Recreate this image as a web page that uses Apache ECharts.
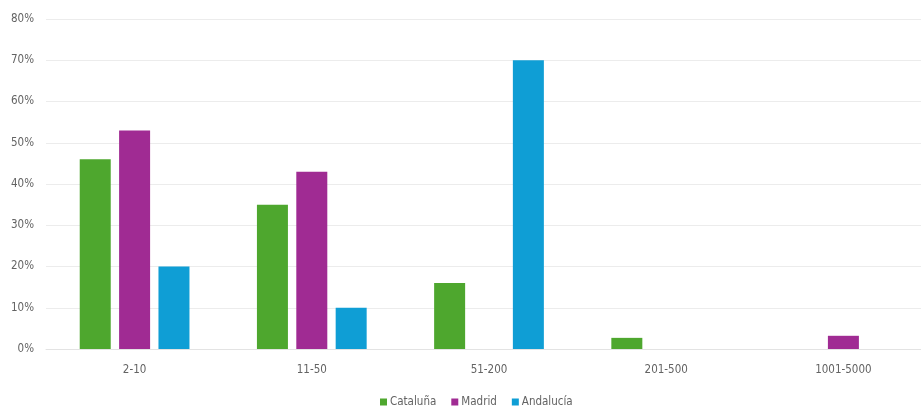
<!DOCTYPE html>
<html>
<head>
<meta charset="utf-8">
<script src="https://cdn.jsdelivr.net/npm/echarts@6/dist/echarts.min.js"></script>
<style>
  html, body { margin: 0; padding: 0; background: #ffffff; }
  #chart { width: 921px; height: 410px; }
</style>
</head>
<body>
<div id="chart"></div>
<script>
// Company size bands (employees)
const categories = ['2-10', '11-50', '51-200', '201-500', '1001-5000'];

// Share of companies per region, in percent
const cataluna  = [46, 35, 16, 2.7, 0];
const madrid    = [53, 43, 0, 0, 3.2];
const andalucia = [20, 10, 70, 0, 0];

const yTicks = { min: 0, max: 80, interval: 10 };

const font = 'DejaVu Sans Condensed';
const textColor = '#636363';

const chart = echarts.init(document.getElementById('chart'), null, { renderer: 'canvas' });

function series(name, data, color) {
  return {
    name: name,
    type: 'bar',
    data: data,
    barWidth: 31,
    barGap: '27%',
    itemStyle: { color: color },
    emphasis: { disabled: true }
  };
}

chart.setOption({
  animation: false,
  // the plot runs a little past the right edge of the canvas
  grid: { left: 46, width: 886, top: 19, bottom: 61, outerBoundsMode: 'none' },
  legend: {
    top: 396,
    left: 380,
    padding: 0,
    itemWidth: 7,
    itemHeight: 7,
    itemGap: 15,
    icon: 'rect',
    textStyle: { fontFamily: font, fontSize: 11.5, color: textColor, padding: [0, 0, 0, -2] },
    data: ['Cataluña', 'Madrid', 'Andalucía']
  },
  xAxis: {
    type: 'category',
    data: categories,
    axisLine: { lineStyle: { color: '#e3e3e3' } },
    axisTick: { show: false },
    axisLabel: { fontFamily: font, fontSize: 11.5, color: textColor, margin: 15 }
  },
  yAxis: {
    type: 'value',
    min: yTicks.min,
    max: yTicks.max,
    interval: yTicks.interval,
    axisLine: { show: false },
    axisTick: { show: false },
    splitLine: { lineStyle: { color: '#ececec' } },
    axisLabel: {
      fontFamily: font, fontSize: 11.5, color: textColor, margin: 12,
      formatter: v => v + '%'
    }
  },
  series: [
    series('Cataluña', cataluna, '#4EA72E'),
    series('Madrid', madrid, '#A02B93'),
    series('Andalucía', andalucia, '#0F9ED5')
  ]
});
</script>
</body>
</html>
